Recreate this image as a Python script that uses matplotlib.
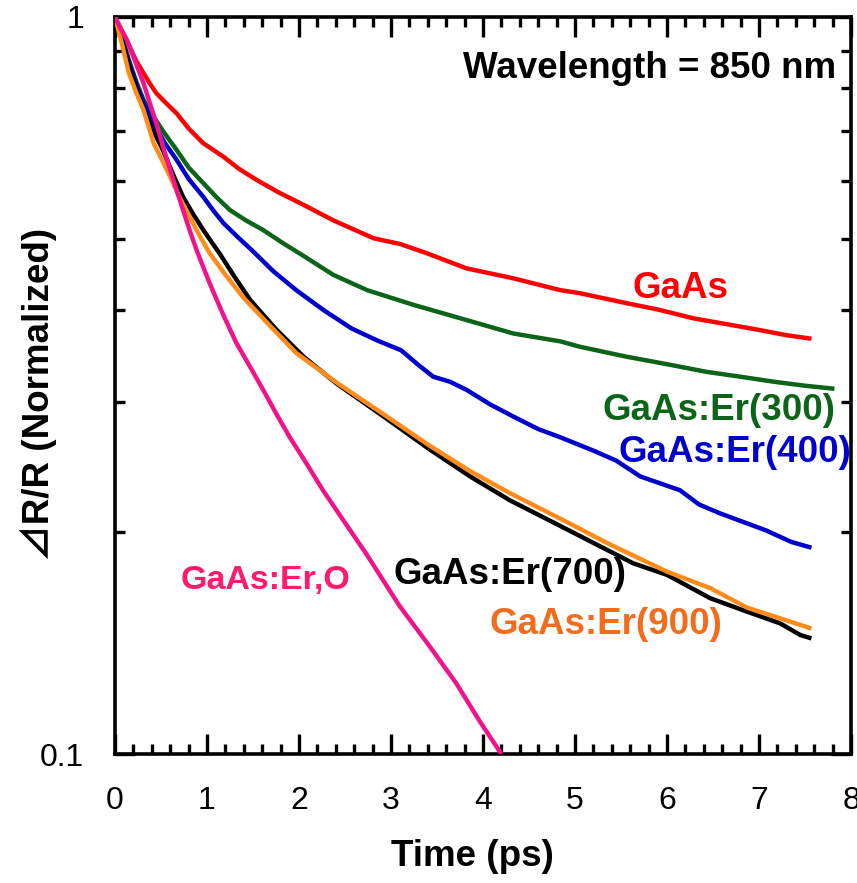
import numpy as np
import matplotlib
matplotlib.use("Agg")
import matplotlib.pyplot as plt
from matplotlib.ticker import FixedLocator, NullFormatter, MultipleLocator

plt.rcParams["font.family"] = ["Liberation Sans", "DejaVu Sans"]

# ── DATA ────────────────────────────────────────────────────────────────────
t_gaas = [0.0, 0.08, 0.16, 0.23, 0.31, 0.38, 0.45, 0.56, 0.67, 0.80, 0.96,
          1.07, 1.18, 1.35, 1.54, 1.78, 2.05, 2.37, 2.81, 3.10, 3.39, 3.82,
          4.33, 4.84, 5.05, 5.56, 5.90, 6.29, 6.65, 7.01, 7.30, 7.57]
v_gaas = [1.0, 0.955, 0.911, 0.872, 0.839, 0.812, 0.788, 0.763, 0.740, 0.706,
          0.674, 0.660, 0.646, 0.622, 0.601, 0.578, 0.556, 0.530, 0.501, 0.492,
          0.478, 0.456, 0.442, 0.426, 0.422, 0.409, 0.401, 0.390, 0.383, 0.376,
          0.370, 0.366]

t_er300 = [0.0, 0.08, 0.15, 0.23, 0.31, 0.42, 0.54, 0.67, 0.80, 0.96, 1.10,
           1.25, 1.42, 1.61, 1.83, 2.05, 2.37, 2.74, 3.24, 3.82, 4.33, 4.84,
           5.05, 5.56, 6.00, 6.43, 6.80, 7.16, 7.50, 7.82]
v_er300 = [1.0, 0.935, 0.875, 0.818, 0.772, 0.732, 0.695, 0.660, 0.625, 0.595,
           0.570, 0.547, 0.530, 0.514, 0.493, 0.474, 0.447, 0.426, 0.407, 0.388,
           0.372, 0.363, 0.357, 0.346, 0.338, 0.330, 0.325, 0.320, 0.316, 0.313]

t_er400 = [0.0, 0.08, 0.15, 0.23, 0.31, 0.42, 0.54, 0.67, 0.80, 0.96, 1.07,
           1.18, 1.34, 1.50, 1.72, 1.97, 2.27, 2.57, 2.85, 3.11, 3.30, 3.46,
           3.64, 3.82, 4.08, 4.33, 4.60, 4.84, 5.20, 5.45, 5.71, 6.14, 6.35,
           6.58, 6.85, 7.08, 7.35, 7.57]
v_er400 = [1.0, 0.930, 0.870, 0.812, 0.765, 0.717, 0.675, 0.640, 0.603, 0.570,
           0.546, 0.525, 0.502, 0.481, 0.452, 0.426, 0.400, 0.378, 0.364, 0.353,
           0.337, 0.325, 0.320, 0.312, 0.298, 0.287, 0.276, 0.269, 0.258, 0.250,
           0.238, 0.228, 0.218, 0.212, 0.206, 0.201, 0.194, 0.1905]

t_er700 = [0.0, 0.08, 0.15, 0.23, 0.31, 0.42, 0.52, 0.63, 0.74, 0.85, 0.96,
           1.05, 1.14, 1.30, 1.47, 1.75, 2.05, 2.41, 2.92, 3.42, 3.86, 4.29,
           4.87, 5.32, 5.63, 6.00, 6.47, 6.87, 7.23, 7.45, 7.57]
v_er700 = [1.0, 0.925, 0.860, 0.800, 0.750, 0.700, 0.660, 0.612, 0.570, 0.540,
           0.514, 0.495, 0.477, 0.444, 0.413, 0.377, 0.346, 0.318, 0.287, 0.259,
           0.238, 0.221, 0.203, 0.190, 0.1815, 0.175, 0.1627, 0.156, 0.1504,
           0.145, 0.1435]

t_er900 = [0.0, 0.08, 0.15, 0.23, 0.31, 0.42, 0.51, 0.60, 0.70, 0.81, 0.92,
           1.03, 1.20, 1.39, 1.65, 1.97, 2.41, 2.92, 3.42, 3.86, 4.29, 4.87,
           5.36, 6.00, 6.47, 6.87, 7.23, 7.57]
v_er900 = [1.0, 0.915, 0.840, 0.790, 0.748, 0.674, 0.640, 0.607, 0.570, 0.536,
           0.505, 0.478, 0.447, 0.417, 0.385, 0.350, 0.319, 0.289, 0.262, 0.242,
           0.226, 0.2077, 0.193, 0.1768, 0.1679, 0.158, 0.1528, 0.148]

t_ero = [0.0, 0.06, 0.13, 0.22, 0.31, 0.38, 0.45, 0.52, 0.60, 0.67, 0.74,
         0.82, 0.90, 1.03, 1.17, 1.32, 1.47, 1.61, 1.75, 1.90, 2.08, 2.26,
         2.48, 2.73, 3.09, 3.42, 3.71, 3.96, 4.20]
v_ero = [1.0, 0.965, 0.931, 0.870, 0.813, 0.763, 0.717, 0.668, 0.620, 0.582,
         0.547, 0.510, 0.478, 0.435, 0.396, 0.361, 0.335, 0.312, 0.290, 0.269,
         0.248, 0.228, 0.2077, 0.187, 0.159, 0.140, 0.1247, 0.111, 0.100]

series = [
    ("GaAs",         t_gaas,  v_gaas,  "#ff0000", "#ff0000", (680, 288), 26.5),
    ("GaAs:Er(300)", t_er300, v_er300, "#0b6418", "#0b6418", (719, 410), 26.5),
    ("GaAs:Er(400)", t_er400, v_er400, "#0000cc", "#0000cc", (735, 452), 26.5),
    ("GaAs:Er(700)", t_er700, v_er700, "#000000", "#000000", (510, 575), 26.5),
    ("GaAs:Er(900)", t_er900, v_er900, "#ff8c1a", "#f26c1c", (606, 625), 26.5),
    ("GaAs:Er,O",    t_ero,   v_ero,   "#f0148c", "#ff1a6e", (265, 580), 24.5),
]

# ── FIGURE ──────────────────────────────────────────────────────────────────
W, H = 857, 883
fig = plt.figure(figsize=(W / 100, H / 100), dpi=100)
x0, x1, y0, y1 = 115, 851, 17, 754
ax = fig.add_axes([x0 / W, 1 - y1 / H, (x1 - x0) / W, (y1 - y0) / H])

for name, t, v, lc, tc, _, _ in series:
    ax.plot(t, v, color=lc, lw=3.2, solid_joinstyle="round",
            solid_capstyle="butt", zorder=3)

ax.set_yscale("log")
ax.set_xlim(0, 8)
ax.set_ylim(0.1, 1)

ax.xaxis.set_major_locator(MultipleLocator(1))
ax.xaxis.set_minor_locator(MultipleLocator(0.2))
ax.yaxis.set_major_locator(FixedLocator([0.1, 1]))
ax.yaxis.set_minor_locator(FixedLocator([0.2, 0.3, 0.4, 0.5, 0.6, 0.7, 0.8, 0.9]))
ax.yaxis.set_minor_formatter(NullFormatter())
ax.set_yticklabels(["0.1", "1"])

ax.tick_params(which="both", direction="in", top=True, right=True,
               width=2.4, labelsize=23)
ax.tick_params(which="major", length=14.5)
ax.tick_params(which="minor", length=7.5)
ax.tick_params(axis="x", pad=23)
ax.tick_params(axis="y", pad=22)
for sp in ax.spines.values():
    sp.set_linewidth(2.6)

fig.text(472 / W, 1 - 856 / H, "Time (ps)", fontsize=26.5, fontweight="bold",
         ha="center", va="center")
fig.text(38 / W, 1 - 394 / H, "\u22bfR/R (Normalized)", fontsize=26.5,
         fontweight="bold", rotation=90, ha="center", va="center",
         family=["Liberation Sans", "Noto Sans CJK JP", "DejaVu Sans"])

fig.text(836 / W, 1 - 68 / H, "Wavelength = 850 nm", ha="right", va="center",
         fontsize=26.5, fontweight="bold")

for name, t, v, lc, tc, (px, py), fs in series:
    fig.text(px / W, 1 - py / H, name, color=tc, fontsize=fs,
             fontweight="bold", ha="center", va="center", zorder=5)

fig.savefig("out.png", dpi=100)
